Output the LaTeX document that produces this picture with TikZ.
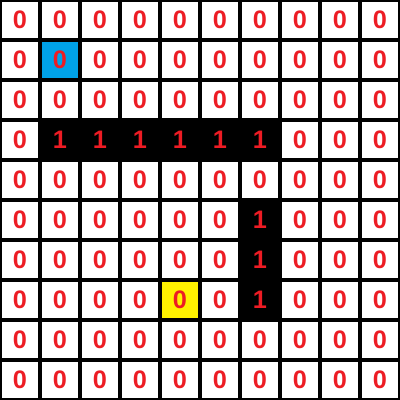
\documentclass[tikz,border=0pt]{standalone}
\usepackage{fontspec}
\setmainfont{Liberation Sans}
\usepackage{tikz}
\usetikzlibrary{positioning}
\definecolor{cellred}{HTML}{ED1C24}
\definecolor{cell0}{HTML}{FFFFFF}
\definecolor{cell1}{HTML}{000000}
\definecolor{cell2}{HTML}{00A2E8}
\definecolor{cell3}{HTML}{FFF200}

\begin{document}
\begin{tikzpicture}[
    cell/.style={rectangle, draw=black, line width=0.08cm, fill=#1, minimum size=1cm, inner sep=0pt, text=cellred, font=\fontsize{18}{18}\selectfont\bfseries}
]
\useasboundingbox (0,0) rectangle (10,-10);

% 0 white, 1 wall, 2 start, 3 goal
\foreach \rowspec [count=\r from 0] in {
    {0,0,0,0,0,0,0,0,0,0},
    {0,2,0,0,0,0,0,0,0,0},
    {0,0,0,0,0,0,0,0,0,0},
    {0,1,1,1,1,1,1,0,0,0},
    {0,0,0,0,0,0,0,0,0,0},
    {0,0,0,0,0,0,1,0,0,0},
    {0,0,0,0,0,0,1,0,0,0},
    {0,0,0,0,3,0,1,0,0,0},
    {0,0,0,0,0,0,0,0,0,0},
    {0,0,0,0,0,0,0,0,0,0}}
  \foreach \f [count=\c from 0] in \rowspec
    \node[cell=cell\f] (cell-\r-\c) at (\c+0.5,-\r-0.5) {\ifnum\f=1 1\else 0\fi};

\end{tikzpicture}
\end{document}
